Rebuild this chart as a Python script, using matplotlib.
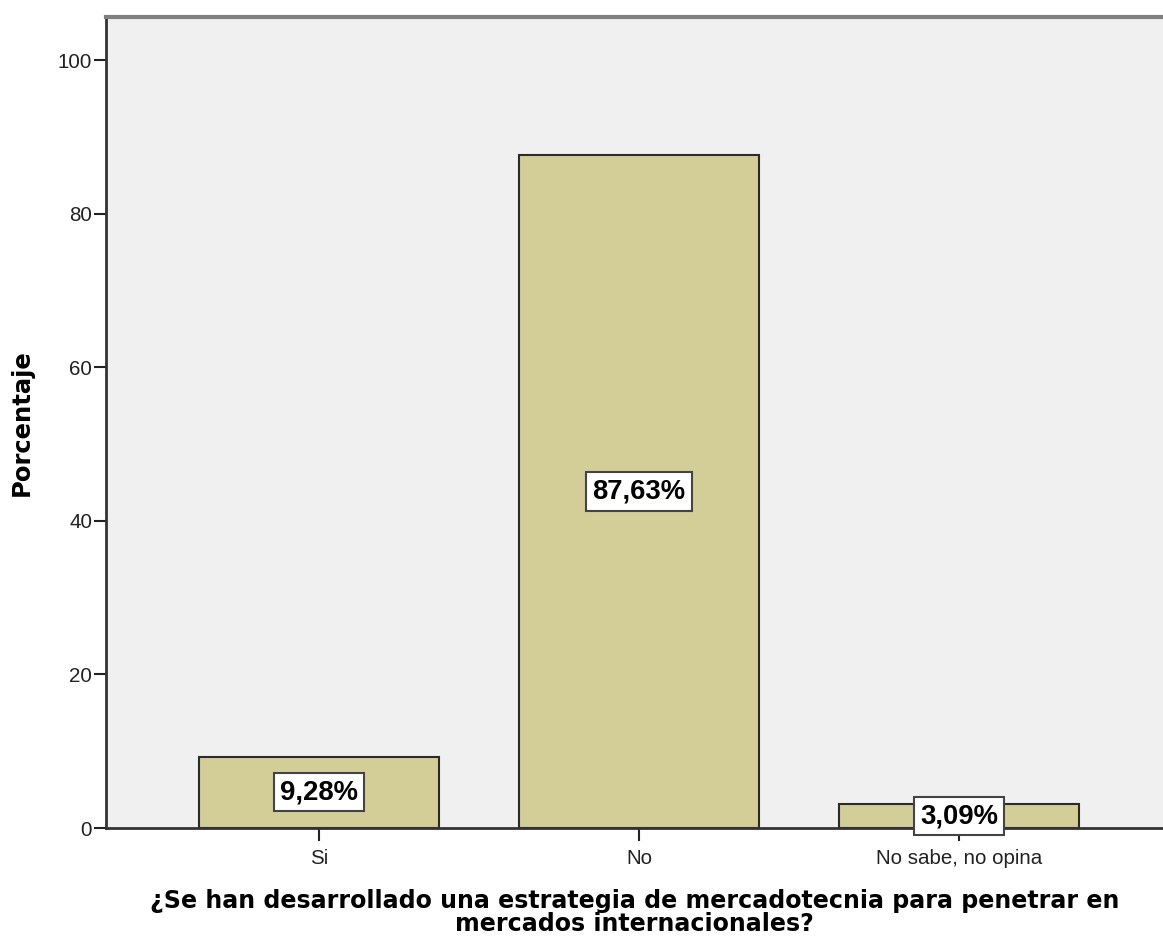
import matplotlib.pyplot as plt

# Datos del gráfico
categorias = ['Si', 'No', 'No sabe, no opina']
porcentajes = [9.28, 87.63, 3.09]
etiquetas = ['9,28%', '87,63%', '3,09%']

plt.rcParams['font.family'] = ['Liberation Sans', 'DejaVu Sans']

fig = plt.figure(figsize=(11.63, 9.42), dpi=100)
ax = fig.add_axes([106 / 1163, 114 / 942, 1057 / 1163, 811 / 942])
ax.set_facecolor('#F0F0F0')

x = range(len(categorias))
bars = ax.bar(x, porcentajes, width=0.75, color='#D3CE98', edgecolor='#2b2b2b', linewidth=1.5, zorder=2)

# Etiquetas dentro de las barras (centro de la barra)
for xi, v, txt in zip(x, porcentajes, etiquetas):
    ax.text(xi, v / 2, txt, ha='center', va='center', fontsize=19.8, fontweight='bold',
            zorder=4,
            bbox=dict(boxstyle='square,pad=0.22', facecolor='white', edgecolor='#444444', linewidth=1.5))

ax.set_xlim(-0.666, 2.6375)
ax.set_ylim(0, 105.6)
ax.set_xticks(list(x))
ax.set_xticklabels(categorias, fontsize=14.8)
ax.set_yticks([0, 20, 40, 60, 80, 100])
ax.tick_params(axis='y', labelsize=14.8, length=9, width=1.5, pad=1, colors='#222222')
ax.tick_params(axis='x', length=9, width=1.5, pad=6, colors='#222222')

# Bordes
ax.spines['right'].set_visible(False)
ax.spines['top'].set_color('#808080')
ax.spines['top'].set_linewidth(3)
ax.spines['left'].set_color('#333333')
ax.spines['left'].set_linewidth(2)
ax.spines['bottom'].set_color('#333333')
ax.spines['bottom'].set_linewidth(2)

ax.set_ylabel('Porcentaje', fontsize=17.5, fontweight='bold', labelpad=17, family='DejaVu Sans')
ax.set_xlabel('¿Se han desarrollado una estrategia de mercadotecnia para penetrar en\nmercados internacionales?',
              fontsize=17.1, fontweight='bold', labelpad=15, linespacing=0.95, family='DejaVu Sans')

fig.savefig('out.png', dpi=100)
